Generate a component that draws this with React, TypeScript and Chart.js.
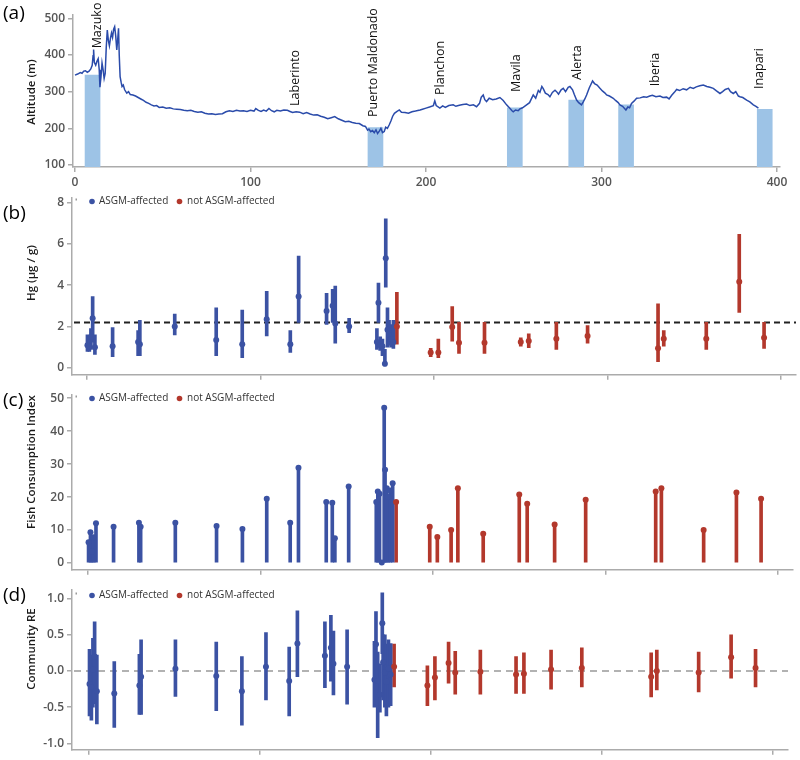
import React, { useEffect, useRef } from 'react';
import { Chart, registerables } from 'chart.js';

Chart.register(...registerables);

const FONT = "'Open Sans', 'DejaVu Sans', sans-serif";
const BLUE = '#3B52A3';
const RED = '#B3382C';
const LINE_BLUE = '#2A4BAA';
const SITE_BLUE = '#9DC3E6';
const AXIS = '#ABABAB';
const TICKTXT = '#555555';

// ---------- Panel (a): altitude profile ----------
const altKm = [0, 1.5, 3, 4, 5, 6, 7, 8, 9, 9.8, 10.3, 10.6, 11, 11.8, 12.5, 13.2, 13.8, 14.2, 14.8, 15.4, 16, 16.6, 17.2, 17.8, 18.4, 19, 19.6, 20.2, 20.8, 21.4, 22, 22.6, 23.2, 23.8, 24.3, 24.8, 25.2, 25.7, 26.3, 26.8, 27.5, 28.3, 29.5, 30.5, 31.5, 33, 34.5, 36, 37.5, 39, 40.5, 42, 43.5, 45, 46.5, 48, 50, 52, 54, 56, 58, 60, 62, 64, 66, 68, 70, 72, 74, 76, 78, 80, 82, 84, 86, 88, 90, 92, 94, 96, 98, 100, 102, 103, 104.5, 106, 107.5, 109, 110.5, 112, 113.5, 115, 117, 119, 121, 122.5, 124, 126, 128, 130, 132, 134, 136, 138, 140, 142, 144, 146, 148, 150, 152, 154, 156, 158, 160, 162, 164, 165.5, 166.7, 167.5, 168.5, 169.5, 170.5, 171.5, 172.4, 173.5, 174.3, 175.2, 176.2, 177, 178, 179, 180, 181, 182, 183.5, 184.8, 186, 188, 190, 192, 194, 196.6, 198, 200, 202, 204.2, 205, 205.8, 207.9, 209.5, 211, 213, 215.5, 217, 219, 221, 223.1, 225, 227, 228.8, 230.5, 231.5, 232.6, 233.5, 234.5, 236, 238, 240, 242.1, 244, 245.9, 247.5, 249, 249.7, 251, 252.5, 253.5, 255, 257.3, 259, 260.5, 261.1, 262.5, 264, 264.9, 266, 266.8, 268, 269.5, 270.6, 272, 273.5, 274.4, 275.5, 277, 278.2, 279.5, 281, 282, 283.5, 284.5, 285.8, 287, 288.6, 289.6, 290.5, 291.5, 293, 294.9, 296, 297.5, 299.1, 300.5, 302, 302.9, 304.5, 306.7, 308, 309.5, 310.5, 312, 313.9, 315, 316, 317.1, 318.5, 320, 322, 324, 325.7, 327.5, 329, 331, 333.3, 335, 337.1, 338.5, 340, 341.5, 342.8, 344.5, 346.5, 348.5, 350.5, 352.3, 354, 356, 358, 360, 361.8, 363.7, 365.5, 367.5, 369, 370.5, 372.3, 373.5, 375.1, 376.5, 378, 378.9, 380.5, 382.7, 384.5, 386.5, 388, 389.4];
const altM = [345, 348, 352, 350, 356, 357, 353, 356, 362, 372, 398, 415, 380, 372, 383, 390, 360, 312, 340, 378, 360, 336, 350, 420, 468, 440, 425, 445, 460, 448, 470, 477, 452, 414, 440, 473, 400, 341, 325, 314, 318, 305, 296, 300, 292, 291, 288, 284, 280, 276, 271, 268, 264, 261, 262, 257, 258, 255, 256, 253, 252, 251, 249, 248, 249, 246, 244, 245, 241, 239, 240, 238, 239, 240, 245, 248, 246, 249, 247, 248, 246, 249, 247, 254, 249, 246, 250, 247, 254, 248, 245, 249, 247, 250, 249, 246, 243, 245, 244, 240, 243, 239, 236, 237, 233, 230, 226, 229, 232, 226, 222, 218, 219, 216, 214, 213, 207, 205, 195, 198, 191, 194, 188, 196, 186, 193, 200, 188, 191, 203, 200, 209, 220, 233, 241, 246, 250, 244, 243, 241, 245, 247, 250, 252, 255, 258, 262, 275, 262, 255, 261, 257, 262, 264, 260, 263, 265, 266, 262, 264, 259, 268, 285, 291, 278, 273, 282, 278, 280, 284, 276, 264, 256, 248, 245, 250, 248, 253, 256, 264, 270, 285, 291, 282, 303, 298, 314, 308, 296, 292, 286, 298, 304, 300, 293, 305, 309, 300, 312, 314, 305, 292, 277, 270, 264, 272, 280, 291, 310, 329, 322, 318, 309, 302, 296, 291, 288, 282, 276, 270, 264, 260, 250, 258, 256, 268, 274, 282, 283, 286, 285, 288, 290, 286, 288, 284, 285, 280, 290, 298, 306, 303, 308, 305, 312, 309, 313, 316, 318, 314, 312, 309, 302, 295, 300, 306, 309, 300, 295, 300, 288, 286, 284, 277, 272, 264, 260, 255];
const siteKm = [10, 171.2, 250.6, 285.6, 314, 393];
const siteTop = [345, 202, 256, 277, 264, 252];
const townNames = ['Mazuko', 'Laberinto', 'Puerto Maldonado', 'Planchon', 'Mavila', 'Alerta', 'Iberia', 'Inapari'];
const townKm = [12.5, 125.4, 169.8, 208, 251.3, 286, 330.5, 389.7];
const townLabelAlt = [418, 261, 231, 291, 299, 332, 315, 307];
const altXTicks = [0, 100, 200, 300, 400];
const altYTicks = [100, 200, 300, 400, 500];

// ---------- Communities (panels b-d) ----------
const lowerXTicks = [0, 100, 200, 300, 400];
const blueX = [0.3, 1.4, 2.3, 3.3, 4.6, 14.8, 29.5, 30.5, 50.6, 74.5, 89.5, 103.6, 117.2, 122, 138.1, 141.6, 143.1, 151.1, 167.1, 168, 169, 170.3, 171.7, 172.2, 173.2, 174.1, 175.3, 176.6];
const redX = [178.6, 198.1, 202.5, 210.5, 214.4, 229.1, 250, 254.6, 270.5, 288.5, 329.1, 332.4, 356.9, 375.9, 390.2];

// (b) Hg
const hgBlue = [1.1, 1.05, 1.5, 2.4, 1.0, 1.05, 1.25, 1.15, 2.0, 1.35, 1.15, 2.35, 1.15, 3.45, 2.75, 3.0, 2.15, 2.0, 1.25, 3.15, 1.1, 1.05, 0.2, 5.3, 1.85, 1.6, 1.4, 1.25];
const hgBlueLo = [0.8, 0.8, 0.9, 1.25, 0.65, 0.55, 0.6, 0.6, 1.6, 0.6, 0.5, 1.55, 0.75, 2.2, 2.1, 2.2, 1.2, 1.7, 0.9, 2.2, 0.85, 0.6, 0.1, 3.9, 1.0, 1.1, 1.0, 0.95];
const hgBlueHi = [1.6, 1.5, 1.9, 3.45, 1.6, 1.95, 1.8, 2.3, 2.6, 2.9, 2.8, 3.7, 1.8, 5.4, 3.6, 3.8, 3.95, 2.4, 1.9, 4.1, 1.5, 1.4, 0.9, 7.2, 2.9, 2.3, 2.1, 2.3];
const hgRed = [2.0, 0.75, 0.75, 1.98, 1.22, 1.22, 1.25, 1.3, 1.41, 1.54, 0.95, 1.41, 1.41, 4.16, 1.46];
const hgRedLo = [1.15, 0.55, 0.5, 1.3, 0.7, 0.7, 1.05, 0.98, 0.9, 1.2, 0.3, 1.05, 0.9, 2.68, 0.95];
const hgRedHi = [3.65, 0.95, 1.4, 2.97, 2.2, 2.2, 1.45, 1.65, 2.2, 2.05, 3.1, 1.8, 2.2, 6.46, 2.2];
const hgThreshold = 2.2;
const hgYTicks = [0, 2, 4, 6, 8];

// (c) Fish consumption index
const fciBlue = [6.3, 9.3, 3.5, 7.8, 12.1, 11.0, 12.2, 11.0, 12.2, 11.2, 10.3, 19.5, 12.2, 28.9, 18.5, 18.3, 7.5, 23.2, 18.5, 21.7, 21.0, 0.2, 47.1, 28.3, 22.7, 20.0, 22.0, 24.2];
const fciRed = [18.5, 11.0, 7.9, 10.0, 22.7, 8.9, 20.8, 18.0, 11.7, 19.2, 21.7, 22.7, 10.0, 21.4, 19.5];
const fciYTicks = [0, 10, 20, 30, 40, 50];

// (d) Community random effect
const reBlue = [-0.18, -0.22, 0.02, 0.2, -0.28, -0.31, -0.2, -0.08, 0.03, -0.07, -0.28, 0.06, -0.14, 0.38, 0.21, 0.32, 0.1, 0.06, -0.12, 0.37, -0.14, -0.33, 0.66, 0.12, -0.02, -0.15, 0.03, -0.05];
const reBlueLo = [-0.62, -0.68, -0.5, -0.45, -0.73, -0.78, -0.6, -0.6, -0.35, -0.55, -0.75, -0.4, -0.62, -0.08, -0.23, -0.14, -0.33, -0.46, -0.5, -0.1, -0.92, -0.57, 0.24, -0.4, -0.5, -0.62, -0.5, -0.48];
const reBlueHi = [0.3, 0.22, 0.45, 0.68, 0.22, 0.13, 0.23, 0.43, 0.43, 0.4, 0.2, 0.53, 0.33, 0.83, 0.68, 0.77, 0.55, 0.57, 0.41, 0.82, 0.26, 0.1, 1.08, 0.5, 0.5, 0.37, 0.43, 0.38];
const reRed = [0.06, -0.2, -0.09, 0.11, -0.02, -0.01, -0.05, -0.04, 0.02, 0.04, -0.08, 0.0, -0.02, 0.19, 0.04];
const reRedLo = [-0.22, -0.48, -0.4, -0.17, -0.32, -0.32, -0.31, -0.31, -0.25, -0.22, -0.36, -0.26, -0.29, -0.1, -0.22];
const reRedHi = [0.37, 0.07, 0.2, 0.4, 0.27, 0.29, 0.2, 0.25, 0.29, 0.32, 0.25, 0.29, 0.26, 0.5, 0.3];
const reYTicks = [-1, -0.5, 0, 0.5, 1];

const legendLabels = ['ASGM-affected', 'not ASGM-affected'];

// ---------- helpers ----------
function yScaleCfg(min: number, max: number, ticks: number[], fmt: (v: number) => string, width: number) {
  return {
    type: 'linear',
    min,
    max,
    afterFit: (s: any) => { s.width = width; },
    afterBuildTicks: (s: any) => { s.ticks = ticks.map((v) => ({ value: v })); },
    grid: { display: true, drawOnChartArea: false, drawTicks: true, tickLength: 5, tickColor: AXIS, lineWidth: 1.5 },
    border: { display: true, color: AXIS, width: 1.5 },
    ticks: { color: TICKTXT, font: { family: FONT, size: 12, weight: '600' }, padding: 3, callback: (v: any) => fmt(Number(v)) },
  };
}

function xScaleCfg(min: number, max: number, ticks: number[], showLabels: boolean, height: number) {
  return {
    type: 'linear',
    min,
    max,
    offset: false,
    afterFit: (s: any) => { s.height = height; },
    afterBuildTicks: (s: any) => { s.ticks = ticks.map((v) => ({ value: v })); },
    grid: { display: true, offset: false, drawOnChartArea: false, drawTicks: true, tickLength: 5, tickColor: AXIS, lineWidth: 1.5 },
    border: { display: true, color: AXIS, width: 1.5 },
    ticks: { display: showLabels, color: TICKTXT, font: { family: FONT, size: 12, weight: '600' }, padding: 3, maxRotation: 0, callback: (v: any) => String(v) },
  };
}

function drawPanelTexts(ctx: CanvasRenderingContext2D, label: string, labelY: number, title: string, titleY: number) {
  ctx.save();
  ctx.fillStyle = '#000';
  ctx.font = `19px ${FONT}`;
  ctx.textAlign = 'left';
  ctx.textBaseline = 'middle';
  ctx.fillText(label, 3, labelY);
  ctx.translate(32, titleY);
  ctx.rotate(-Math.PI / 2);
  ctx.textAlign = 'center';
  ctx.font = `600 11.5px ${FONT}`;
  ctx.fillStyle = '#1a1a1a';
  ctx.fillText(title, 0, 0);
  ctx.restore();
}

function lowerPlugin(p: { label: string; labelY: number; title: string; titleY: number; legendY: number; ref?: { value: number; color: string; dash: number[]; width: number } }) {
  return {
    id: 'panelDeco',
    beforeDatasetsDraw(chart: any) {
      if (!p.ref) return;
      const { ctx, chartArea, scales } = chart;
      const y = scales.y.getPixelForValue(p.ref.value);
      ctx.save();
      ctx.strokeStyle = p.ref.color;
      ctx.lineWidth = p.ref.width;
      ctx.setLineDash(p.ref.dash);
      ctx.beginPath();
      ctx.moveTo(chartArea.left + 2, y);
      ctx.lineTo(chartArea.right, y);
      ctx.stroke();
      ctx.restore();
    },
    afterDraw(chart: any) {
      const ctx: CanvasRenderingContext2D = chart.ctx;
      drawPanelTexts(ctx, p.label, p.labelY, p.title, p.titleY);
      const ly = p.legendY;
      ctx.save();
      ctx.fillStyle = '#999';
      ctx.fillRect(75.5, ly - 3, 1.5, 2);
      ctx.fillStyle = BLUE;
      ctx.beginPath();
      ctx.arc(92, ly, 2.8, 0, Math.PI * 2);
      ctx.fill();
      ctx.fillStyle = RED;
      ctx.beginPath();
      ctx.arc(179.5, ly, 2.8, 0, Math.PI * 2);
      ctx.fill();
      ctx.fillStyle = '#333';
      ctx.font = `10px ${FONT}`;
      ctx.textAlign = 'left';
      ctx.textBaseline = 'middle';
      ctx.fillText(legendLabels[0], 99, ly);
      ctx.fillText(legendLabels[1], 187, ly);
      ctx.restore();
    },
  };
}

function errorDatasets(xs: number[], vals: number[], lo: number[] | null, hi: number[] | null, color: string) {
  const bars = {
    type: 'bar',
    data: xs.map((x, i) => ({ x, y: lo && hi ? [lo[i], hi[i]] : vals[i] })),
    backgroundColor: color,
    borderWidth: 0,
    barThickness: 3,
    grouped: false,
    order: 2,
  };
  const pts = {
    type: 'scatter',
    data: xs.map((x, i) => ({ x, y: vals[i] })),
    pointRadius: 3,
    pointBackgroundColor: color,
    pointBorderWidth: 0,
    showLine: false,
    order: 1,
  };
  return [bars, pts];
}

const commonOpts = {
  responsive: false,
  animation: false,
  events: [] as string[],
  plugins: { legend: { display: false }, tooltip: { enabled: false } },
};

// ---------- chart builders ----------
function buildA(): any {
  return {
    type: 'scatter',
    data: {
      datasets: [
        {
          type: 'line',
          data: altKm.map((x, i) => ({ x, y: altM[i] })),
          borderColor: LINE_BLUE,
          borderWidth: 1.5,
          pointRadius: 0,
          tension: 0,
          fill: false,
          order: 0,
        },
        {
          type: 'bar',
          data: siteKm.map((x, i) => ({ x, y: siteTop[i] })),
          backgroundColor: SITE_BLUE,
          borderWidth: 0,
          barThickness: 15,
          grouped: false,
          order: 1,
        },
      ],
    },
    options: {
      ...commonOpts,
      layout: { padding: { top: 15, right: 20, left: 0, bottom: 0 } },
      scales: {
        x: xScaleCfg(-1.14, 401.7, altXTicks, true, 23),
        y: yScaleCfg(94.5, 509, altYTicks, (v) => String(v), 73),
      },
    },
    plugins: [
      {
        id: 'altDeco',
        afterDatasetsDraw(chart: any) {
          const { ctx, scales } = chart;
          ctx.save();
          ctx.fillStyle = '#111';
          ctx.font = `12.5px ${FONT}`;
          ctx.textAlign = 'left';
          ctx.textBaseline = 'middle';
          townNames.forEach((name, i) => {
            const px = scales.x.getPixelForValue(townKm[i]);
            const py = scales.y.getPixelForValue(townLabelAlt[i]);
            ctx.save();
            ctx.translate(px, py);
            ctx.rotate(-Math.PI / 2);
            ctx.fillText(name, 0, 0);
            ctx.restore();
          });
          ctx.restore();
        },
        afterDraw(chart: any) {
          drawPanelTexts(chart.ctx, '(a)', 14, 'Altitude (m)', 92);
        },
      },
    ],
  };
}

function buildB(): any {
  return {
    type: 'scatter',
    data: {
      datasets: [
        ...errorDatasets(blueX, hgBlue, hgBlueLo, hgBlueHi, BLUE),
        ...errorDatasets(redX, hgRed, hgRedLo, hgRedHi, RED),
      ],
    },
    options: {
      ...commonOpts,
      layout: { padding: { top: 7, right: 2, left: 0, bottom: 0 } },
      scales: {
        x: xScaleCfg(-8.6, 408.6, lowerXTicks, false, 9),
        y: yScaleCfg(-0.33, 8.2, hgYTicks, (v) => String(v), 72),
      },
    },
    plugins: [
      lowerPlugin({ label: '(b)', labelY: 26, title: 'Hg (µg / g)', titleY: 85, legendY: 13.5, ref: { value: hgThreshold, color: '#222', dash: [6, 4], width: 2 } }),
    ],
  };
}

function buildC(): any {
  return {
    type: 'scatter',
    data: {
      datasets: [
        ...errorDatasets(blueX, fciBlue, null, null, BLUE),
        ...errorDatasets(redX, fciRed, null, null, RED),
      ],
    },
    options: {
      ...commonOpts,
      layout: { padding: { top: 7, right: 7, left: 0, bottom: 0 } },
      scales: {
        x: xScaleCfg(-9.3, 408.7, lowerXTicks, false, 7),
        y: yScaleCfg(-2.05, 50.9, fciYTicks, (v) => String(v), 72),
      },
    },
    plugins: [
      lowerPlugin({ label: '(c)', labelY: 16, title: 'Fish Consumption Index', titleY: 77, legendY: 13.5 }),
    ],
  };
}

function buildD(): any {
  return {
    type: 'scatter',
    data: {
      datasets: [
        ...errorDatasets(blueX, reBlue, reBlueLo, reBlueHi, BLUE),
        ...errorDatasets(redX, reRed, reRedLo, reRedHi, RED),
      ],
    },
    options: {
      ...commonOpts,
      layout: { padding: { top: 10, right: 12, left: 0, bottom: 0 } },
      scales: {
        x: xScaleCfg(-9.95, 409.2, lowerXTicks, false, 9),
        y: yScaleCfg(-1.089, 1.116, reYTicks, (v) => v.toFixed(1), 72),
      },
    },
    plugins: [
      lowerPlugin({ label: '(d)', labelY: 16, title: 'Community RE', titleY: 69, legendY: 15.5, ref: { value: 0, color: '#999', dash: [7, 5], width: 1.5 } }),
    ],
  };
}

function ChartCanvas({ top, height, build }: { top: number; height: number; build: () => any }) {
  const ref = useRef<HTMLCanvasElement>(null);
  useEffect(() => {
    if (!ref.current) return;
    const chart = new Chart(ref.current, build());
    return () => chart.destroy();
  }, []);
  return (
    <canvas
      ref={ref}
      width={800}
      height={height}
      style={{ position: 'absolute', left: 0, top, width: 800, height, display: 'block' }}
    />
  );
}

export default function App() {
  return (
    <div style={{ position: 'absolute', left: 0, top: 0, width: 800, height: 760, background: '#fff', overflow: 'hidden' }}>
      <ChartCanvas top={0} height={190} build={buildA} />
      <ChartCanvas top={188} height={197} build={buildB} />
      <ChartCanvas top={385} height={195} build={buildC} />
      <ChartCanvas top={580} height={180} build={buildD} />
    </div>
  );
}
